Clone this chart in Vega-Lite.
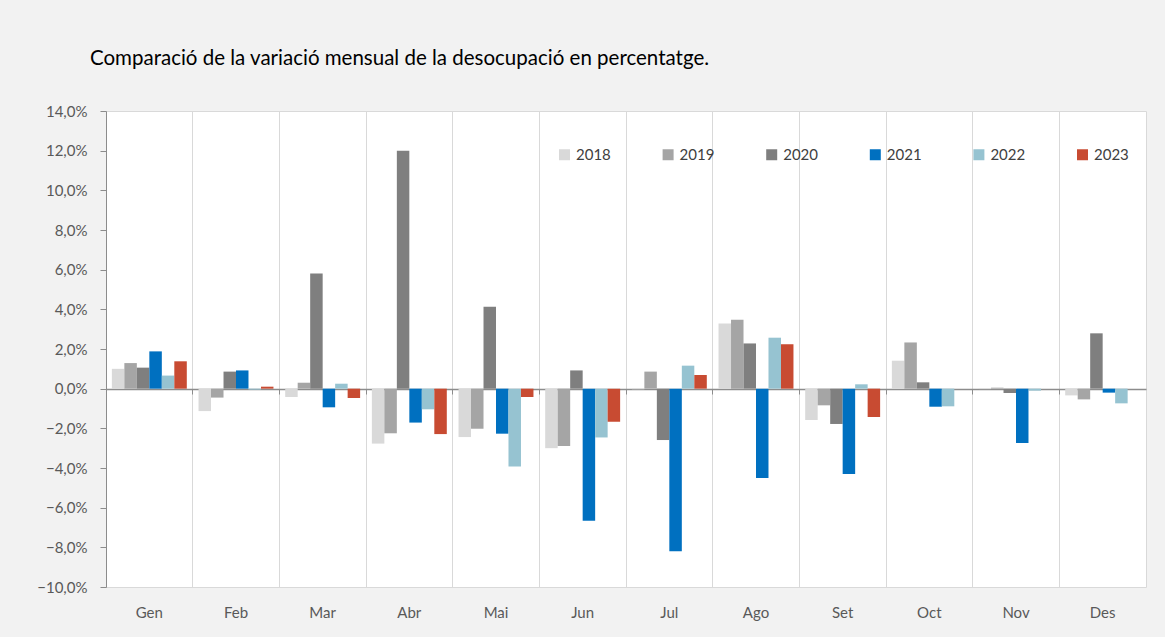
{
  "$schema": "https://vega.github.io/schema/vega-lite/v6.json",
  "autosize": {"type": "none"},
  "padding": {"left": 106, "top": 111, "right": 19, "bottom": 50},
  "width": 1040,
  "height": 476,
  "background": "#f2f2f2",
  "title": {
    "text": "Comparació de la variació mensual de la desocupació en percentatge.",
    "anchor": "start",
    "frame": "group",
    "dx": -16,
    "offset": 19,
    "baseline": "alphabetic",
    "font": "Lato",
    "fontSize": 20.5,
    "fontWeight": "normal",
    "color": "#000000"
  },
  "config": {
    "view": {"fill": "#ffffff", "stroke": "#d9d9d9", "strokeWidth": 1},
    "axis": {"labelFont": "Lato", "labelFontSize": 15, "labelColor": "#595959", "titleFont": "Lato"}
  },
  "data": {
    "values": [
      {"mes": "Gen", "any": "2018", "valor": 1.0},
      {"mes": "Gen", "any": "2019", "valor": 1.29},
      {"mes": "Gen", "any": "2020", "valor": 1.06},
      {"mes": "Gen", "any": "2021", "valor": 1.88},
      {"mes": "Gen", "any": "2022", "valor": 0.66},
      {"mes": "Gen", "any": "2023", "valor": 1.38},
      {"mes": "Feb", "any": "2018", "valor": -1.13},
      {"mes": "Feb", "any": "2019", "valor": -0.45},
      {"mes": "Feb", "any": "2020", "valor": 0.86},
      {"mes": "Feb", "any": "2021", "valor": 0.92},
      {"mes": "Feb", "any": "2022", "valor": -0.05},
      {"mes": "Feb", "any": "2023", "valor": 0.1},
      {"mes": "Mar", "any": "2018", "valor": -0.42},
      {"mes": "Mar", "any": "2019", "valor": 0.3},
      {"mes": "Mar", "any": "2020", "valor": 5.81},
      {"mes": "Mar", "any": "2021", "valor": -0.94},
      {"mes": "Mar", "any": "2022", "valor": 0.25},
      {"mes": "Mar", "any": "2023", "valor": -0.47},
      {"mes": "Abr", "any": "2018", "valor": -2.77},
      {"mes": "Abr", "any": "2019", "valor": -2.25},
      {"mes": "Abr", "any": "2020", "valor": 12.0},
      {"mes": "Abr", "any": "2021", "valor": -1.71},
      {"mes": "Abr", "any": "2022", "valor": -1.04},
      {"mes": "Abr", "any": "2023", "valor": -2.29},
      {"mes": "Mai", "any": "2018", "valor": -2.44},
      {"mes": "Mai", "any": "2019", "valor": -2.02},
      {"mes": "Mai", "any": "2020", "valor": 4.13},
      {"mes": "Mai", "any": "2021", "valor": -2.27},
      {"mes": "Mai", "any": "2022", "valor": -3.92},
      {"mes": "Mai", "any": "2023", "valor": -0.42},
      {"mes": "Jun", "any": "2018", "valor": -3.0},
      {"mes": "Jun", "any": "2019", "valor": -2.89},
      {"mes": "Jun", "any": "2020", "valor": 0.92},
      {"mes": "Jun", "any": "2021", "valor": -6.66},
      {"mes": "Jun", "any": "2022", "valor": -2.46},
      {"mes": "Jun", "any": "2023", "valor": -1.67},
      {"mes": "Jul", "any": "2018", "valor": -0.03},
      {"mes": "Jul", "any": "2019", "valor": 0.86},
      {"mes": "Jul", "any": "2020", "valor": -2.59},
      {"mes": "Jul", "any": "2021", "valor": -8.2},
      {"mes": "Jul", "any": "2022", "valor": 1.16},
      {"mes": "Jul", "any": "2023", "valor": 0.69},
      {"mes": "Ago", "any": "2018", "valor": 3.28},
      {"mes": "Ago", "any": "2019", "valor": 3.48},
      {"mes": "Ago", "any": "2020", "valor": 2.28},
      {"mes": "Ago", "any": "2021", "valor": -4.5},
      {"mes": "Ago", "any": "2022", "valor": 2.57},
      {"mes": "Ago", "any": "2023", "valor": 2.24},
      {"mes": "Set", "any": "2018", "valor": -1.58},
      {"mes": "Set", "any": "2019", "valor": -0.84},
      {"mes": "Set", "any": "2020", "valor": -1.78},
      {"mes": "Set", "any": "2021", "valor": -4.3},
      {"mes": "Set", "any": "2022", "valor": 0.22},
      {"mes": "Set", "any": "2023", "valor": -1.43},
      {"mes": "Oct", "any": "2018", "valor": 1.41},
      {"mes": "Oct", "any": "2019", "valor": 2.33},
      {"mes": "Oct", "any": "2020", "valor": 0.32},
      {"mes": "Oct", "any": "2021", "valor": -0.91},
      {"mes": "Oct", "any": "2022", "valor": -0.89},
      {"mes": "Nov", "any": "2018", "valor": -0.02},
      {"mes": "Nov", "any": "2019", "valor": 0.05},
      {"mes": "Nov", "any": "2020", "valor": -0.22},
      {"mes": "Nov", "any": "2021", "valor": -2.74},
      {"mes": "Nov", "any": "2022", "valor": -0.1},
      {"mes": "Des", "any": "2018", "valor": -0.34},
      {"mes": "Des", "any": "2019", "valor": -0.54},
      {"mes": "Des", "any": "2020", "valor": 2.79},
      {"mes": "Des", "any": "2021", "valor": -0.2},
      {"mes": "Des", "any": "2022", "valor": -0.74}
    ]
  },
  "mark": {"type": "bar"},
  "encoding": {
    "x": {
      "field": "mes",
      "type": "nominal",
      "sort": ["Gen", "Feb", "Mar", "Abr", "Mai", "Jun", "Jul", "Ago", "Set", "Oct", "Nov", "Des"],
      "scale": {"paddingInner": 0, "paddingOuter": 0},
      "axis": {
        "title": null,
        "orient": "bottom",
        "offset": -198,
        "bandPosition": 0,
        "domain": true,
        "domainColor": "#8c8c8c",
        "domainWidth": 1.5,
        "ticks": true,
        "tickColor": "#8c8c8c",
        "tickSize": 5,
        "grid": true,
        "gridColor": "#d9d9d9",
        "labelAngle": 0,
        "labelPadding": 211,
        "labelBaseline": "top"
      }
    },
    "xOffset": {
      "field": "any",
      "type": "nominal",
      "scale": {"paddingInner": 0, "paddingOuter": 0.47}
    },
    "y": {
      "field": "valor",
      "type": "quantitative",
      "scale": {"domain": [-10, 14], "nice": false, "zero": false},
      "axis": {
        "title": null,
        "values": [-10, -8, -6, -4, -2, 0, 2, 4, 6, 8, 10, 12, 14],
        "grid": false,
        "domainColor": "#8c8c8c",
        "tickColor": "#8c8c8c",
        "tickSize": 6,
        "labelPadding": 13,
        "labelExpr": "replace(format(datum.value, '.1f'), '.', ',') + '%'"
      }
    },
    "color": {
      "field": "any",
      "type": "nominal",
      "scale": {
        "domain": ["2018", "2019", "2020", "2021", "2022", "2023"],
        "range": ["#d9d9d9", "#a5a5a5", "#7f7f7f", "#0070c0", "#96c3d1", "#c84b32"]
      },
      "legend": {
        "title": null,
        "orient": "none",
        "legendX": 451,
        "legendY": 36,
        "direction": "horizontal",
        "columns": 6,
        "columnPadding": 49.6,
        "padding": 0,
        "symbolType": "square",
        "symbolSize": 121,
        "symbolStrokeWidth": 0,
        "symbolOpacity": 1,
        "labelFont": "Lato",
        "labelFontSize": 15,
        "labelColor": "#404040",
        "labelOffset": 4
      }
    }
  }
}
